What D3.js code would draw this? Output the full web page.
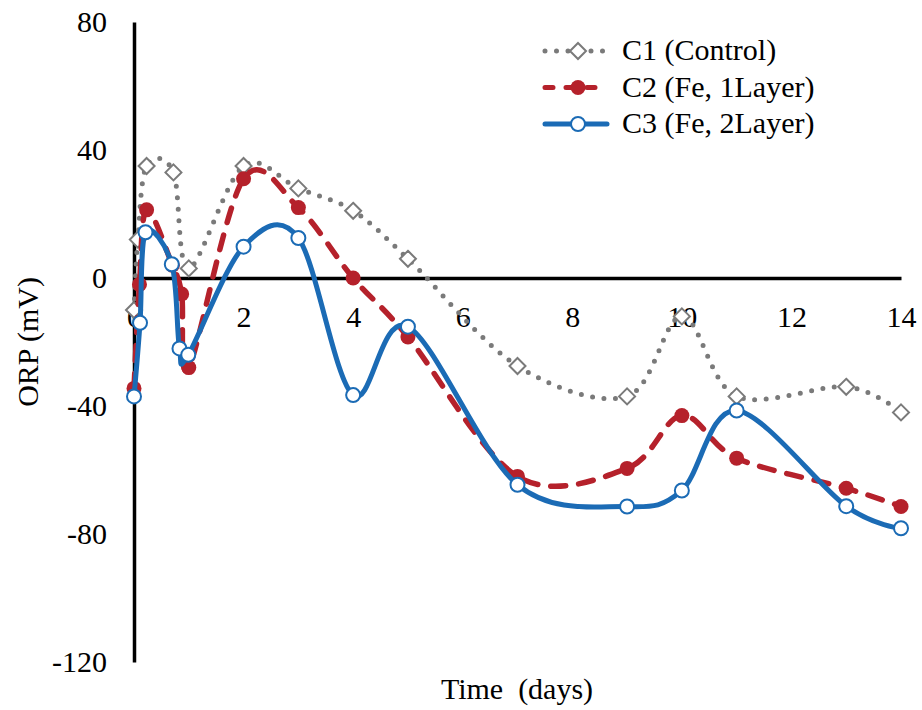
<!DOCTYPE html>
<html>
<head>
<meta charset="utf-8">
<script src="https://d3js.org/d3.v7.min.js"></script>
<style>
  body { margin: 0; background: #fff; }
  svg text { font-family: "Liberation Serif", "Times New Roman", serif; fill: #000; }
  .axis path.domain { stroke: #000; stroke-width: 3.5; }
  .axis line { display: none; }
  .axis text { font-size: 30px; }
</style>
</head>
<body>
<svg id="chart" width="922" height="710"></svg>
<script>
  // ORP readings per column
  var c1Days = [0, 0.07, 0.23, 0.72, 1, 2, 3, 4, 5, 7, 9, 10, 11, 13, 14];
  var c1Orp  = [-10, 12, 35, 33, 3, 35, 28, 21, 6, -27.5, -37, -12, -37, -34, -42];
  var c2Days = [0, 0.1, 0.23, 0.7, 0.87, 1, 2, 3, 4, 5, 7, 9, 10, 11, 13, 14];
  var c2Orp  = [-34.5, -2, 21.3, 4, -5, -28, 31, 22, 0, -18.4, -62, -59.5, -43, -56.3, -65.7, -71.4];
  var c3Days = [0, 0.11, 0.21, 0.69, 0.83, 0.99, 2, 3, 4, 5, 7, 9, 10, 11, 13, 14];
  var c3Orp  = [-37, -14, 14.3, 4.3, -22, -24, 9.8, 12.5, -36.6, -15.2, -64.6, -71.4, -66.4, -41.4, -71.3, -78.2];

  var xTicks = [0, 2, 4, 6, 8, 10, 12, 14];
  var yTicks = [-120, -80, -40, 0, 40, 80];
  var seriesNames = ['C1 (Control)', 'C2 (Fe, 1Layer)', 'C3 (Fe, 2Layer)'];

  var svg = d3.select('#chart');

  var x = d3.scaleLinear().domain([0, 14]).range([134, 901]);
  var y = d3.scaleLinear().domain([-120, 80]).range([662, 22]);

  // plain hyphen for negatives, like the original
  var plain = function(d) { return String(d); };

  // axes cross at zero
  svg.append('g')
    .attr('class', 'axis')
    .attr('transform', 'translate(0,' + y(0) + ')')
    .call(d3.axisBottom(x).tickValues(xTicks).tickFormat(plain).tickSize(0).tickPadding(28));

  svg.append('g')
    .attr('class', 'axis')
    .attr('transform', 'translate(' + x(0) + ',0)')
    .call(d3.axisLeft(y).tickValues(yTicks).tickFormat(plain).tickSize(0).tickPadding(27));

  svg.append('text')
    .attr('x', 517)
    .attr('y', 699)
    .attr('text-anchor', 'middle')
    .style('font-size', '30px')
    .style('white-space', 'pre')
    .text('Time  (days)');

  svg.append('text')
    .attr('transform', 'translate(38,342) rotate(-90)')
    .attr('text-anchor', 'middle')
    .style('font-size', '30px')
    .text('ORP (mV)');

  var series = [
    { name: seriesNames[0], days: c1Days, orp: c1Orp, color: '#7a7a7a', dash: '0 11.5', marker: 'diamond' },
    { name: seriesNames[1], days: c2Days, orp: c2Orp, color: '#b5212b', dash: '15 13', marker: 'dot' },
    { name: seriesNames[2], days: c3Days, orp: c3Orp, color: '#1b6bb5', dash: null, marker: 'ring' }
  ];

  var line = d3.line()
    .x(function(d) { return x(d[0]); })
    .y(function(d) { return y(d[1]); })
    .curve(d3.curveCardinal.tension(0));

  function drawMarker(g, kind, color) {
    if (kind === 'diamond') {
      g.append('path')
        .attr('d', 'M0,-8L8,0L0,8L-8,0Z')
        .attr('fill', '#fff')
        .attr('stroke', color)
        .attr('stroke-width', 2);
    } else if (kind === 'dot') {
      g.append('circle').attr('r', 7.5).attr('fill', color);
    } else {
      g.append('circle')
        .attr('r', 7)
        .attr('fill', '#fff')
        .attr('stroke', color)
        .attr('stroke-width', 2);
    }
  }

  series.forEach(function(s) {
    var pts = s.days.map(function(d, i) { return [d, s.orp[i]]; });
    var p = svg.append('path')
      .attr('d', line(pts))
      .attr('fill', 'none')
      .attr('stroke', s.color)
      .attr('stroke-width', s.marker === 'dot' ? 5.5 : 5)
      .attr('stroke-linecap', 'round');
    if (s.dash) p.attr('stroke-dasharray', s.dash);

    svg.append('g').selectAll('g')
        .data(pts)
      .enter().append('g')
        .attr('transform', function(d) { return 'translate(' + x(d[0]) + ',' + y(d[1]) + ')'; })
        .each(function() { drawMarker(d3.select(this), s.marker, s.color); });
  });

  // legend
  var legend = svg.append('g');
  series.forEach(function(s, i) {
    var base = 60 + i * 36.5;
    var row = legend.append('g').attr('transform', 'translate(0,' + (base - 9) + ')');
    var l = row.append('line')
      .attr('x1', 545).attr('x2', 607)
      .attr('stroke', s.color)
      .attr('stroke-width', 5)
      .attr('stroke-linecap', 'round');
    if (s.dash) l.attr('stroke-dasharray', s.marker === 'dot' ? '8 13' : s.dash);
    drawMarker(row.append('g').attr('transform', 'translate(578,0)'), s.marker, s.color);
    legend.append('text')
      .attr('x', 622)
      .attr('y', base)
      .style('font-size', '30px')
      .text(s.name);
  });
</script>
</body>
</html>
